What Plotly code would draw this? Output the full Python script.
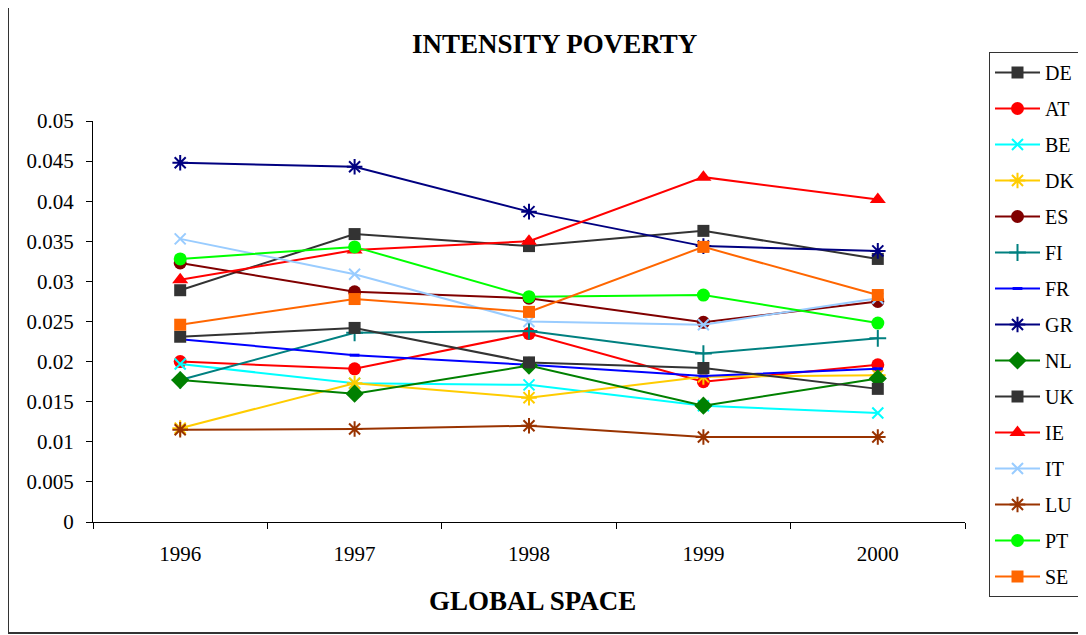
import plotly.graph_objects as go

years = ["1996", "1997", "1998", "1999", "2000"]

DE = [0.0289, 0.0359, 0.0344, 0.0363, 0.0328]
AT = [0.0200, 0.0191, 0.0235, 0.0175, 0.0196]
BE = [0.0197, 0.0173, 0.0171, 0.0145, 0.0136]
DK = [0.0117, 0.0173, 0.0155, 0.0181, 0.0183]
ES = [0.0323, 0.0287, 0.0279, 0.0249, 0.0275]
FI = [0.0177, 0.0236, 0.0238, 0.0210, 0.0229]
FR = [0.0228, 0.0208, 0.0196, 0.0182, 0.0191]
GR = [0.0448, 0.0443, 0.0387, 0.0344, 0.0338]
NL = [0.0177, 0.0160, 0.0195, 0.0145, 0.0179]
UK = [0.0231, 0.0242, 0.0199, 0.0192, 0.0166]
IE = [0.0302, 0.0339, 0.0350, 0.0430, 0.0402]
IT = [0.0353, 0.0309, 0.0250, 0.0246, 0.0279]
LU = [0.0115, 0.0116, 0.0120, 0.0106, 0.0106]
PT = [0.0328, 0.0343, 0.0281, 0.0283, 0.0248]
SE = [0.0246, 0.0278, 0.0262, 0.0343, 0.0283]

series = [
    ("DE", DE, "#333333", "square", 12),
    ("AT", AT, "#FF0000", "circle", 13),
    ("BE", BE, "#00FFFF", "x-thin-open", 11),
    ("DK", DK, "#FFCC00", "asterisk-open", 13),
    ("ES", ES, "#800000", "circle", 13),
    ("FI", FI, "#008080", "cross-thin-open", 12),
    ("FR", FR, "#0000FF", "line-ew-open", 7),
    ("GR", GR, "#000080", "asterisk-open", 13),
    ("NL", NL, "#008000", "diamond", 14),
    ("UK", UK, "#333333", "square", 12),
    ("IE", IE, "#FF0000", "triangle-up", 14),
    ("IT", IT, "#99CCFF", "x-thin-open", 11),
    ("LU", LU, "#993300", "asterisk-open", 13),
    ("PT", PT, "#00FF00", "circle", 13),
    ("SE", SE, "#FF6600", "square", 12),
]

font = "Liberation Serif"
fig = go.Figure()
for name, vals, col, sym, sz in series:
    thin = sym.endswith("-open")
    fig.add_trace(go.Scatter(
        x=years, y=vals, name=name, mode="lines+markers",
        legendgroup=name,
        line=dict(color=col, width=2),
        marker=dict(symbol=sym, size=sz, color=col,
                    line=dict(color=col, width=3 if sym == "line-ew-open" else (2 if thin else 0))),
    ))

fig.update_layout(
    width=1078, height=627,
    margin=dict(l=85, r=121, t=113, b=113, autoexpand=False),
    paper_bgcolor="white", plot_bgcolor="white",
    font=dict(family=font, size=21, color="black"),
    showlegend=True,
    legend=dict(x=(981 - 85) / 872, y=(514 - 44) / 401, xanchor="left", yanchor="top",
                bordercolor="#333333", borderwidth=1,
                font=dict(family=font, size=20, color="black"),
                tracegroupgap=7, itemwidth=45, maxheight=600),
    xaxis=dict(type="category", range=[-0.5, 4.5], showline=True, linecolor="black",
               linewidth=1, ticks="outside", ticklen=6, tickcolor="black",
               tickson="boundaries", showgrid=False, zeroline=False,
               ticklabelstandoff=13, automargin=False,
               tickfont=dict(family=font, size=21)),
    yaxis=dict(range=[0, 0.05], dtick=0.005, showline=True, linecolor="black",
               linewidth=1, ticks="outside", ticklen=6, tickcolor="black",
               showgrid=False, zeroline=False, tickformat="~g",
               ticklabelstandoff=8, automargin=False,
               tickfont=dict(family=font, size=21)),
    annotations=[
        dict(text="<b>INTENSITY POVERTY</b>", x=(554 - 93) / 872, y=(522 - 44) / 401,
             xref="paper", yref="paper", showarrow=False, xanchor="center", yanchor="middle",
             font=dict(family=font, size=27, color="black")),
        dict(text="<b>GLOBAL SPACE</b>", x=(532 - 93) / 872, y=(522 - 601) / 401,
             xref="paper", yref="paper", showarrow=False, xanchor="center", yanchor="middle",
             font=dict(family=font, size=27, color="black")),
    ],
    shapes=[
        dict(type="rect", xref="paper", yref="paper",
             x0=(8 - 93) / 872, x1=1.3, y0=(522 - 633) / 401, y1=(522 - 7) / 401,
             line=dict(color="#333333", width=2), layer="below"),
    ],
)

fig.write_html("out.html")
